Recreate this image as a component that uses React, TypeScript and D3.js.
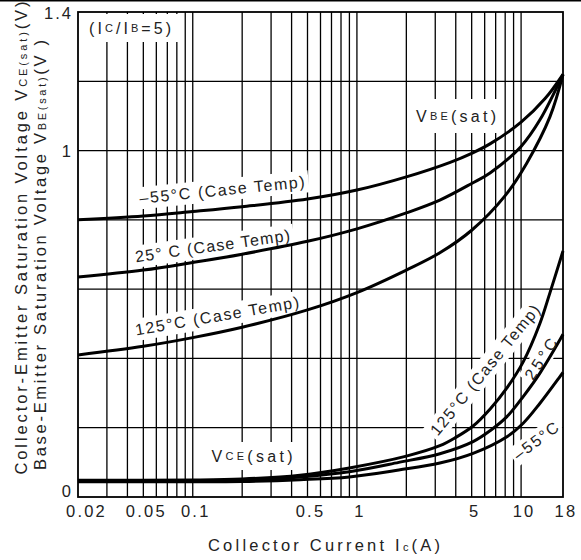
import React from 'react';
import * as d3 from 'd3';

const W = 581;
const H = 560;

// axis ticks / grid
const xTickValues = [0.02, 0.05, 0.1, 0.5, 1, 5, 10, 18];
const xTickLabels = ['0.02', '0.05', '0.1', '0.5', '1', '5', '10', '18'];
const xGridValues = [0.03, 0.04, 0.05, 0.06, 0.07, 0.08, 0.09, 0.1, 0.2, 0.3, 0.4, 0.5, 0.6, 0.7, 0.8, 0.9, 1, 2, 3, 4, 5, 6, 7, 8, 9, 10];
const yTickValues = [0, 1, 1.4];
const yTickLabels = ['0', '1', '1.4'];
const yGridValues = [0.2, 0.4, 0.6, 0.8, 1.0, 1.2];

// VBE(sat) curves
const vbeM55Current = [0.02, 0.05, 0.1, 0.2, 0.5, 1, 2, 3.7, 5, 6.5, 10, 14, 18];
const vbeM55Voltage = [0.80, 0.811, 0.824, 0.838, 0.86, 0.886, 0.924, 0.966, 0.992, 1.02, 1.082, 1.15, 1.22];
const vbe25Current = [0.02, 0.05, 0.1, 0.2, 0.5, 1, 2, 3.2, 5, 6.5, 10, 13, 18];
const vbe25Voltage = [0.635, 0.655, 0.677, 0.701, 0.738, 0.774, 0.82, 0.857, 0.905, 0.936, 1.012, 1.088, 1.22];
const vbe125Current = [0.02, 0.05, 0.1, 0.2, 0.5, 1, 2, 3.2, 5, 8, 10.8, 15, 18];
const vbe125Voltage = [0.41, 0.435, 0.46, 0.49, 0.54, 0.59, 0.655, 0.705, 0.77, 0.87, 0.963, 1.098, 1.22];

// VCE(sat) curves
const vce125Current = [0.02, 0.1, 0.2, 0.45, 0.9, 2, 3.2, 4, 5.1, 6.5, 8.2, 10.3, 13, 15, 18];
const vce125Voltage = [0.048, 0.049, 0.052, 0.063, 0.084, 0.118, 0.148, 0.172, 0.205, 0.255, 0.315, 0.39, 0.5, 0.59, 0.71];
const vce25Current = [0.02, 0.2, 0.45, 0.9, 1.8, 3.2, 5.1, 6.5, 8.2, 10.3, 13, 17.2, 18];
const vce25Voltage = [0.046, 0.048, 0.058, 0.073, 0.1, 0.125, 0.16, 0.192, 0.232, 0.29, 0.357, 0.453, 0.47];
const vceM55Current = [0.02, 0.2, 0.45, 0.9, 1.8, 3.2, 5.1, 8.2, 10.3, 13, 17.2, 18];
const vceM55Voltage = [0.044, 0.045, 0.05, 0.058, 0.078, 0.098, 0.126, 0.174, 0.213, 0.27, 0.347, 0.36];

const curves: [number[], number[]][] = [
  [vbeM55Current, vbeM55Voltage],
  [vbe25Current, vbe25Voltage],
  [vbe125Current, vbe125Voltage],
  [vce125Current, vce125Voltage],
  [vce25Current, vce25Voltage],
  [vceM55Current, vceM55Voltage],
];

const FONT = "'Liberation Sans', Arial, Helvetica, sans-serif";
const TXT = '#222';

type Lab = { cx: number; cy: number; angle: number; w: number; h: number; len: number; content: React.ReactNode };

const small = (s: string) => <tspan fontSize={11}>{s}</tspan>;

const labels: Lab[] = [
  { cx: 130, cy: 28, angle: 0, w: 96, h: 28, len: 82, content: <>(I{small('C')}/I{small('B')}=5)</> },
  { cx: 456, cy: 116, angle: 0, w: 92, h: 34, len: 80, content: <>V{small('BE')}(sat)</> },
  { cx: 222, cy: 190, angle: -5.8, w: 174, h: 22, len: 166, content: <>–55°C (Case Temp)</> },
  { cx: 212.5, cy: 246, angle: -8, w: 164, h: 22, len: 156, content: <>25° C (Case Temp)</> },
  { cx: 217, cy: 316, angle: -9.8, w: 174, h: 22, len: 166, content: <>125°C (Case Temp)</> },
  { cx: 252, cy: 456, angle: 0, w: 92, h: 28, len: 81, content: <>V{small('CE')}(sat)</> },
  { cx: 485, cy: 370, angle: -50.8, w: 170, h: 22, len: 163, content: <>125°C (Case Temp)</> },
  { cx: 541, cy: 359, angle: -57, w: 52, h: 20, len: 46, content: <>25°C</> },
  { cx: 536, cy: 441, angle: -37, w: 58, h: 20, len: 52, content: <>–55°C</> },
];

export default function App() {
  const x = d3.scaleLog().domain([0.02, 18]).range([78, 563]);
  const y = d3.scaleLinear().domain([0, 1.4]).range([497, 12]);
  const line = d3
    .line<[number, number]>()
    .x((d) => x(d[0]))
    .y((d) => y(d[1]))
    .curve(d3.curveCatmullRom.alpha(0.5));

  const [x0, x1] = x.range();
  const [y0, y1] = y.range();

  return (
    <svg width={W} height={H} style={{ position: 'absolute', left: 0, top: 0, background: '#fff' }} fontFamily={FONT}>
      <rect x={0} y={0} width={W} height={H} fill="#fff" />
      <rect x={0} y={0} width={W} height={1.5} fill="#000" />
      {/* grid */}
      <g stroke="#000" strokeWidth={1.3}>
        {xGridValues.map((v) => (
          <line key={'gx' + v} x1={x(v)} x2={x(v)} y1={y1} y2={y0} />
        ))}
        {yGridValues.map((v) => (
          <line key={'gy' + v} x1={x0} x2={x1} y1={y(v)} y2={y(v)} />
        ))}
      </g>
      {/* label backgrounds */}
      {labels.map((l, i) => (
        <rect
          key={'bg' + i}
          x={-l.w / 2}
          y={-l.h / 2}
          width={l.w}
          height={l.h}
          fill="#fff"
          transform={`translate(${l.cx},${l.cy}) rotate(${l.angle})`}
        />
      ))}
      {/* frame */}
      <rect x={x0} y={y1} width={x1 - x0} height={y0 - y1} fill="none" stroke="#000" strokeWidth={1.8} />
      {/* curves */}
      <g fill="none" stroke="#000" strokeWidth={3} strokeLinejoin="round">
        {curves.map(([cur, vol], i) => (
          <path key={'c' + i} d={line(cur.map((c, j) => [c, vol[j]] as [number, number])) || ''} />
        ))}
      </g>
      {/* label texts */}
      {labels.map((l, i) => (
        <text
          key={'lt' + i}
          transform={`translate(${l.cx},${l.cy}) rotate(${l.angle})`}
          textAnchor="middle"
          dominantBaseline="central"
          fontSize={16}
          fill={TXT}
          textLength={l.len}
          lengthAdjust="spacing"
        >
          {l.content}
        </text>
      ))}
      {/* x tick labels */}
      {xTickValues.map((v, i) => (
        <text
          key={'xt' + v}
          x={i === 0 ? x(v) + 8.5 : x(v) + 3}
          y={517}
          textAnchor="middle"
          fontSize={16.5}
          letterSpacing={2.2}
          fill={TXT}
        >
          {xTickLabels[i]}
        </text>
      ))}
      {/* y tick labels */}
      {yTickValues.map((v, i) => (
        <text
          key={'yt' + v}
          x={73}
          y={v === 0 ? y(v) - 0.5 : y(v) + 6.5}
          textAnchor="end"
          fontSize={16.5}
          letterSpacing={2}
          fill={TXT}
        >
          {yTickLabels[i]}
        </text>
      ))}
      {/* x title */}
      <text x={324} y={551} textAnchor="middle" fontSize={16.5} fill={TXT} textLength={232} lengthAdjust="spacing">
        Collector Current I{small('c')}(A)
      </text>
      {/* y titles */}
      <text
        transform="translate(27,238) rotate(-90)"
        textAnchor="middle"
        fontSize={16.5}
        fill={TXT}
        textLength={473}
        lengthAdjust="spacing"
      >
        Collector-Emitter Saturation Voltage V{small('CE(sat)')}(V)
      </text>
      <text
        transform="translate(46,255) rotate(-90)"
        textAnchor="middle"
        fontSize={16.5}
        fill={TXT}
        textLength={430}
        lengthAdjust="spacing"
      >
        Base-Emitter Saturation Voltage V{small('BE(sat)')}(V )
      </text>
    </svg>
  );
}
